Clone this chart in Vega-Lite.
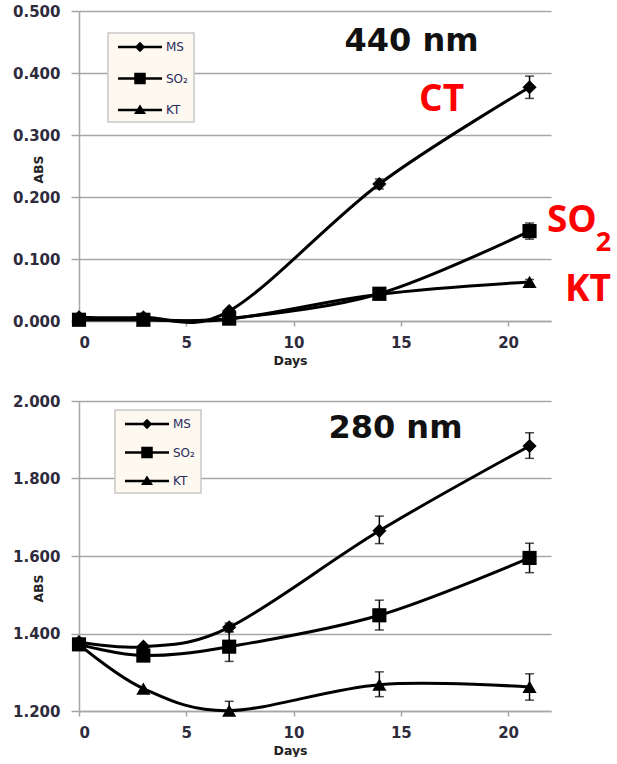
{
  "$schema": "https://vega.github.io/schema/vega-lite/v6.json",
  "padding": {"left": 12, "top": 4, "right": 0, "bottom": 0},
  "spacing": 27,
  "background": "white",
  "config": {
    "font": "DejaVu Sans",
    "view": {"stroke": null},
    "axis": {
      "labelFont": "DejaVu Sans", "labelFontWeight": "bold", "labelFontSize": 15, "labelColor": "#2e2b3c",
      "domainColor": "#a6a6a6", "domainWidth": 1.5, "tickColor": "#a6a6a6", "tickWidth": 1.5,
      "gridColor": "#a6a6a6", "gridWidth": 1.5,
      "titleFont": "DejaVu Sans", "titleFontWeight": "bold", "titleFontSize": 12.5, "titleColor": "#222222"
    },
    "axisX": {"grid": false, "tickSize": 5, "labelPadding": 9, "titleX": 211, "titleY": 33},
    "axisY": {"grid": true, "tickSize": 8, "labelPadding": 11, "titleBaseline": "middle", "titleX": -41},
    "legend": {
      "orient": "none", "title": null, "fillColor": "#fdf9f0", "strokeColor": "#c8c8c8", "strokeWidth": 1.5, "padding": 6,
      "labelFont": "DejaVu Sans", "labelFontSize": 12, "labelColor": "#2a2a5c",
      "symbolSize": 256, "symbolStrokeWidth": 0, "symbolOffset": 18, "labelOffset": 18,
      "symbolFillColor": "black", "symbolStrokeColor": "black"
    }
  },
  "datasets": {
    "top": [
      {"series": "MS", "day": 0, "value": 0.006}, {"series": "MS", "day": 3, "value": 0.006}, {"series": "MS", "day": 7, "value": 0.016}, {"series": "MS", "day": 14, "value": 0.221}, {"series": "MS", "day": 21, "value": 0.377},
      {"series": "SO₂", "day": 0, "value": 0.002}, {"series": "SO₂", "day": 3, "value": 0.002}, {"series": "SO₂", "day": 7, "value": 0.004}, {"series": "SO₂", "day": 14, "value": 0.044}, {"series": "SO₂", "day": 21, "value": 0.145},
      {"series": "KT", "day": 0, "value": 0.002}, {"series": "KT", "day": 3, "value": 0.002}, {"series": "KT", "day": 7, "value": 0.003}, {"series": "KT", "day": 14, "value": 0.043}, {"series": "KT", "day": 21, "value": 0.063}
    ],
    "topErr": [
      {"series": "MS", "day": 14, "lo": 0.213, "hi": 0.229}, {"series": "MS", "day": 21, "lo": 0.359, "hi": 0.395},
      {"series": "SO₂", "day": 14, "lo": 0.040, "hi": 0.048}, {"series": "SO₂", "day": 21, "lo": 0.132, "hi": 0.158},
      {"series": "KT", "day": 21, "lo": 0.059, "hi": 0.067}
    ],
    "bottom": [
      {"series": "MS", "day": 0, "value": 1.378}, {"series": "MS", "day": 3, "value": 1.366}, {"series": "MS", "day": 7, "value": 1.416}, {"series": "MS", "day": 14, "value": 1.665}, {"series": "MS", "day": 21, "value": 1.884},
      {"series": "SO₂", "day": 0, "value": 1.372}, {"series": "SO₂", "day": 3, "value": 1.343}, {"series": "SO₂", "day": 7, "value": 1.366}, {"series": "SO₂", "day": 14, "value": 1.447}, {"series": "SO₂", "day": 21, "value": 1.595},
      {"series": "KT", "day": 0, "value": 1.372}, {"series": "KT", "day": 3, "value": 1.258}, {"series": "KT", "day": 7, "value": 1.201}, {"series": "KT", "day": 14, "value": 1.268}, {"series": "KT", "day": 21, "value": 1.262}
    ],
    "bottomErr": [
      {"series": "MS", "day": 7, "lo": 1.405, "hi": 1.427}, {"series": "MS", "day": 14, "lo": 1.632, "hi": 1.703}, {"series": "MS", "day": 21, "lo": 1.852, "hi": 1.918},
      {"series": "SO₂", "day": 7, "lo": 1.328, "hi": 1.404}, {"series": "SO₂", "day": 14, "lo": 1.409, "hi": 1.486}, {"series": "SO₂", "day": 21, "lo": 1.557, "hi": 1.633},
      {"series": "KT", "day": 7, "lo": 1.177, "hi": 1.225}, {"series": "KT", "day": 14, "lo": 1.237, "hi": 1.301}, {"series": "KT", "day": 21, "lo": 1.228, "hi": 1.296}
    ]
  },
  "resolve": {"scale": {"shape": "independent"}, "legend": {"shape": "independent"}},
  "vconcat": [
    {
      "width": 472, "height": 310,
      "resolve": {"scale": {"shape": "independent"}, "legend": {"shape": "independent"}},
      "layer": [
        {
          "data": {"name": "top"},
          "mark": {"type": "line", "interpolate": "cardinal", "color": "black", "strokeWidth": 3},
          "encoding": {
            "x": {"field": "day", "type": "quantitative", "scale": {"domain": [0, 22], "nice": false}, "axis": {"values": [0, 5, 10, 15, 20], "title": "Days"}},
            "y": {"field": "value", "type": "quantitative", "scale": {"domain": [0, 0.5], "nice": false, "zero": false}, "axis": {"values": [0, 0.1, 0.2, 0.3, 0.4, 0.5], "format": ".3f", "title": "ABS", "titleY": 158}},
            "detail": {"field": "series"}
          }
        },
        {
          "data": {"name": "topErr"},
          "mark": {"type": "rule", "color": "black", "strokeWidth": 1.5, "clip": true},
          "encoding": {
            "x": {"field": "day", "type": "quantitative"},
            "y": {"field": "lo", "type": "quantitative"},
            "y2": {"field": "hi"}
          }
        },
        {
          "data": {"name": "topErr"},
          "mark": {"type": "tick", "orient": "horizontal", "color": "black", "size": 9, "thickness": 1.5, "clip": true},
          "encoding": {
            "x": {"field": "day", "type": "quantitative"},
            "y": {"field": "lo", "type": "quantitative"}
          }
        },
        {
          "data": {"name": "topErr"},
          "mark": {"type": "tick", "orient": "horizontal", "color": "black", "size": 9, "thickness": 1.5, "clip": true},
          "encoding": {
            "x": {"field": "day", "type": "quantitative"},
            "y": {"field": "hi", "type": "quantitative"}
          }
        },
        {
          "data": {"name": "top"},
          "mark": {"type": "point", "filled": true, "color": "black", "opacity": 1, "size": 200},
          "encoding": {
            "x": {"field": "day", "type": "quantitative"},
            "y": {"field": "value", "type": "quantitative"},
            "shape": {"field": "series", "type": "nominal", "scale": {"domain": ["MS", "SO₂", "KT"], "range": ["diamond", "square", "triangle-up"]}, "legend": null}
          }
        },
        {
          "data": {"name": "top"},
          "transform": [{"filter": "datum.day < 0"}],
          "mark": {"type": "point", "filled": true, "color": "black", "opacity": 1},
          "encoding": {
            "x": {"field": "day", "type": "quantitative"},
            "y": {"field": "value", "type": "quantitative"},
            "shape": {
              "field": "series", "type": "nominal",
              "scale": {"domain": ["MS", "SO₂", "KT"], "range": [
                "M-2.75,-0.17L2.75,-0.17L2.75,0.17L-2.75,0.17ZM0,-0.65L0.65,0L0,0.65L-0.65,0Z",
                "M-2.75,-0.17L2.75,-0.17L2.75,0.17L-2.75,0.17ZM-0.72,-0.72L0.72,-0.72L0.72,0.72L-0.72,0.72Z",
                "M-2.75,-0.17L2.75,-0.17L2.75,0.17L-2.75,0.17ZM0,-0.7L0.75,0.5L-0.75,0.5Z"]},
              "legend": {"legendX": 29, "legendY": 22, "rowPadding": 17.5,
                "labelExpr": "datum.label + '\u00a0\u00a0\u00a0\u00a0\u00a0'",
                "encode": {"symbols": {"fill": {"value": "black"}, "opacity": {"value": 1}}}}
            }
          }
        },
        {
          "data": {"values": [{"day": 15.5, "value": 0.4355, "label": "440 nm"}]},
          "mark": {"type": "text", "font": "DejaVu Sans", "fontWeight": "bold", "fontSize": 32, "color": "#111111", "align": "center", "baseline": "alphabetic"},
          "encoding": {
            "x": {"field": "day", "type": "quantitative"},
            "y": {"field": "value", "type": "quantitative"},
            "text": {"field": "label"}
          }
        },
        {
          "data": {"values": [{"day": 15.85, "value": 0.3387, "label": "CT"}, {"day": 21.81, "value": 0.1436, "label": "SO"}, {"day": 22.65, "value": 0.0323, "label": "KT"}]},
          "mark": {"type": "text", "font": "Open Sans", "fontWeight": "bold", "fontSize": 37, "color": "#ff0000", "align": "left", "baseline": "alphabetic"},
          "encoding": {
            "x": {"field": "day", "type": "quantitative"},
            "y": {"field": "value", "type": "quantitative"},
            "text": {"field": "label"}
          }
        },
        {
          "data": {"values": [{"day": 24.08, "value": 0.1129, "label": "2"}]},
          "mark": {"type": "text", "font": "Open Sans", "fontWeight": "bold", "fontSize": 27, "color": "#ff0000", "align": "left", "baseline": "alphabetic"},
          "encoding": {
            "x": {"field": "day", "type": "quantitative"},
            "y": {"field": "value", "type": "quantitative"},
            "text": {"field": "label"}
          }
        }
      ]
    },
    {
      "width": 472, "height": 310,
      "resolve": {"scale": {"shape": "independent"}, "legend": {"shape": "independent"}},
      "layer": [
        {
          "data": {"name": "bottom"},
          "mark": {"type": "line", "interpolate": "cardinal", "color": "black", "strokeWidth": 3},
          "encoding": {
            "x": {"field": "day", "type": "quantitative", "scale": {"domain": [0, 22], "nice": false}, "axis": {"values": [0, 5, 10, 15, 20], "title": "Days"}},
            "y": {"field": "value", "type": "quantitative", "scale": {"domain": [1.2, 2.0], "nice": false, "zero": false}, "axis": {"values": [1.2, 1.4, 1.6, 1.8, 2.0], "format": ".3f", "title": "ABS", "titleY": 187}},
            "detail": {"field": "series"}
          }
        },
        {
          "data": {"name": "bottomErr"},
          "mark": {"type": "rule", "color": "black", "strokeWidth": 1.5, "clip": true},
          "encoding": {
            "x": {"field": "day", "type": "quantitative"},
            "y": {"field": "lo", "type": "quantitative"},
            "y2": {"field": "hi"}
          }
        },
        {
          "data": {"name": "bottomErr"},
          "mark": {"type": "tick", "orient": "horizontal", "color": "black", "size": 9, "thickness": 1.5, "clip": true},
          "encoding": {
            "x": {"field": "day", "type": "quantitative"},
            "y": {"field": "lo", "type": "quantitative"}
          }
        },
        {
          "data": {"name": "bottomErr"},
          "mark": {"type": "tick", "orient": "horizontal", "color": "black", "size": 9, "thickness": 1.5, "clip": true},
          "encoding": {
            "x": {"field": "day", "type": "quantitative"},
            "y": {"field": "hi", "type": "quantitative"}
          }
        },
        {
          "data": {"name": "bottom"},
          "mark": {"type": "point", "filled": true, "color": "black", "opacity": 1, "size": 200},
          "encoding": {
            "x": {"field": "day", "type": "quantitative"},
            "y": {"field": "value", "type": "quantitative"},
            "shape": {"field": "series", "type": "nominal", "scale": {"domain": ["MS", "SO₂", "KT"], "range": ["diamond", "square", "triangle-up"]}, "legend": null}
          }
        },
        {
          "data": {"name": "bottom"},
          "transform": [{"filter": "datum.day < 0"}],
          "mark": {"type": "point", "filled": true, "color": "black", "opacity": 1},
          "encoding": {
            "x": {"field": "day", "type": "quantitative"},
            "y": {"field": "value", "type": "quantitative"},
            "shape": {
              "field": "series", "type": "nominal",
              "scale": {"domain": ["MS", "SO₂", "KT"], "range": [
                "M-2.75,-0.17L2.75,-0.17L2.75,0.17L-2.75,0.17ZM0,-0.65L0.65,0L0,0.65L-0.65,0Z",
                "M-2.75,-0.17L2.75,-0.17L2.75,0.17L-2.75,0.17ZM-0.72,-0.72L0.72,-0.72L0.72,0.72L-0.72,0.72Z",
                "M-2.75,-0.17L2.75,-0.17L2.75,0.17L-2.75,0.17ZM0,-0.7L0.75,0.5L-0.75,0.5Z"]},
              "legend": {"legendX": 36, "legendY": 9, "rowPadding": 14.5,
                "labelExpr": "datum.label + '\u00a0\u00a0\u00a0\u00a0\u00a0'",
                "encode": {"symbols": {"fill": {"value": "black"}, "opacity": {"value": 1}}}}
            }
          }
        },
        {
          "data": {"values": [{"day": 14.75, "value": 1.9045, "label": "280 nm"}]},
          "mark": {"type": "text", "font": "DejaVu Sans", "fontWeight": "bold", "fontSize": 32, "color": "#111111", "align": "center", "baseline": "alphabetic"},
          "encoding": {
            "x": {"field": "day", "type": "quantitative"},
            "y": {"field": "value", "type": "quantitative"},
            "text": {"field": "label"}
          }
        }
      ]
    }
  ]
}
